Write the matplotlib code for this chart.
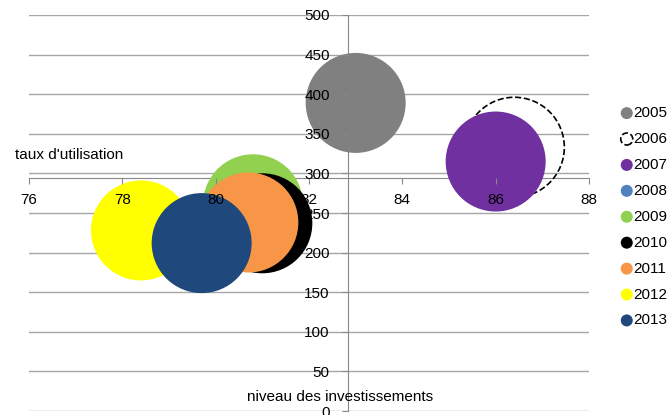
import matplotlib
matplotlib.use("Agg")
import matplotlib.pyplot as plt

plt.rcParams['font.family'] = ['Liberation Sans', 'DejaVu Sans']

years = ['2005', '2006', '2007', '2008', '2009', '2010', '2011', '2012', '2013']
investissements = [83.0, 86.4, 86.0, 80.9, 80.8, 81.0, 80.7, 78.4, 79.7]
utilisation = [389, 333, 315, 238, 261, 237, 238, 228, 212]
taille = [1, 1, 1, 1, 1, 1, 1, 1, 1]
couleurs = ['#808080', 'white', '#7030A0', '#4F81BD', '#92D050',
            'black', '#F79646', '#FFFF00', '#1F497D']


def main():
    fig = plt.figure(figsize=(6.7, 4.15), dpi=100)
    ax = fig.add_axes([29 / 670, 1 - 411 / 415, 560 / 670, 396 / 415])

    ax.set_xlim(76, 88)
    ax.set_ylim(0, 500)
    ax.set_xticks(range(76, 89, 2))
    ax.set_yticks(range(0, 501, 50))

    # horizontal gridlines, drawn under the bubbles
    for yv in range(0, 501, 50):
        ax.axhline(yv, color='#a6a6a6', linewidth=1, zorder=0.3)

    # axes cross inside the plot like in Excel
    ax.spines['left'].set_position(('data', 82.83))
    ax.spines['bottom'].set_position(('data', 294))
    ax.spines['top'].set_visible(False)
    ax.spines['right'].set_visible(False)
    for s in ['left', 'bottom']:
        ax.spines[s].set_color('#888888')
        ax.spines[s].set_zorder(0.5)
    ax.tick_params(axis='both', colors='#888888', labelcolor='black', labelsize=11, length=4)
    ax.tick_params(axis='y', pad=9)
    ax.tick_params(axis='x', pad=7)
    # tick labels sit above the bubbles
    ax.xaxis.set_zorder(5)
    ax.yaxis.set_zorder(5)

    handles = []
    for i, yr in enumerate(years):
        if yr == '2006':
            h = ax.scatter(investissements[i], utilisation[i], s=5184 * taille[i],
                           facecolor='none', edgecolor='black', linestyle='--',
                           linewidth=1.2, label=yr, zorder=1 + i * 0.1)
        else:
            h = ax.scatter(investissements[i], utilisation[i], s=5184 * taille[i],
                           color=couleurs[i], edgecolor='none', label=yr, zorder=1 + i * 0.1)
        handles.append(h)

    fig.text(15 / 670, 1 - 155 / 415, "taux d'utilisation", fontsize=11, va='center', ha='left')
    fig.text(340 / 670, 1 - 397 / 415, "niveau des investissements", fontsize=11,
             va='center', ha='center')

    ax.legend(handles=handles, loc='upper left', bbox_to_anchor=(613 / 670, 1 - 100 / 415),
              bbox_transform=fig.transFigure, frameon=False, fontsize=11,
              markerscale=0.12, handletextpad=-0.1, labelspacing=0.78,
              borderaxespad=0, handlelength=1.0)

    fig.savefig('out.png', dpi=100)


if __name__ == "__main__":
    main()
